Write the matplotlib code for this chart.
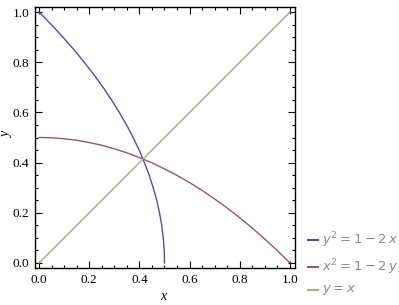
import matplotlib.pyplot as plt

# points (y^2 = 1 - 2x, x^2 = 1 - 2y)
t = [1.0, 0.95, 0.9, 0.85, 0.8, 0.75, 0.7, 0.65, 0.6, 0.55, 0.5,
     0.45, 0.4, 0.35, 0.3, 0.25, 0.2, 0.15, 0.1, 0.05, 0.0]
s = [0.0, 0.049, 0.095, 0.139, 0.18, 0.219, 0.255, 0.289, 0.32, 0.349, 0.375,
     0.399, 0.42, 0.439, 0.455, 0.469, 0.48, 0.489, 0.495, 0.499, 0.5]
diag_x = [0.0, 1.0]
diag_y = [0.0, 1.0]
labels = [r"$y^2 = 1 - 2\,x$", r"$x^2 = 1 - 2\,y$", r"$y = x$"]

plt.rcParams['font.family'] = 'Liberation Serif'
plt.rcParams['mathtext.fontset'] = 'dejavusans'

fig = plt.figure(figsize=(3.99, 3.05), dpi=100)
ax = fig.add_axes([35 / 399, 37 / 305, 260 / 399, 261 / 305])

ax.plot(s, t, color='#4f4f9e', lw=1.0)
ax.plot(t, s, color='#8c5a72', lw=1.0)
ax.plot(diag_x, diag_y, color='#a9a98c', lw=1.0)

ax.set_xlim(-0.016, 1.02)
ax.set_ylim(-0.02, 1.02)
ticks = [0.0, 0.2, 0.4, 0.6, 0.8, 1.0]
ax.set_xticks(ticks)
ax.set_yticks(ticks)
ax.set_xticklabels([f"{v:.1f}" for v in ticks])
ax.set_yticklabels([f"{v:.1f}" for v in ticks])
ax.set_xticks([i * 0.05 for i in range(21)], minor=True)
ax.set_yticks([i * 0.05 for i in range(21)], minor=True)
ax.tick_params(which='both', direction='in', top=True, right=True,
               labelsize=9.5, width=0.8, pad=4)
ax.tick_params(which='major', length=5)
ax.tick_params(which='minor', length=2.5)
for sp in ax.spines.values():
    sp.set_linewidth(1.0)

ax.set_xlabel("x", style='italic', fontsize=10)
ax.set_ylabel("y", style='italic', fontsize=10)
ax.xaxis.set_label_coords((163 - 35) / 260, -22 / 261)
ax.yaxis.set_label_coords(-22 / 260, (268 - 135) / 261)

# legend outside, bottom right
ys = [240, 267, 290]
cols = ['#4f4f9e', '#8c5a72', '#a9a98c']
for yy, c, lab in zip(ys, cols, labels):
    yf = 1 - yy / 305
    fig.add_artist(plt.Line2D([308 / 399, 318 / 399], [yf, yf], color=c, lw=1.5))
    fig.text(322 / 399, yf, lab, color='#8a8a8a', fontsize=9.5, va='center')

fig.savefig("out.png", dpi=100)
